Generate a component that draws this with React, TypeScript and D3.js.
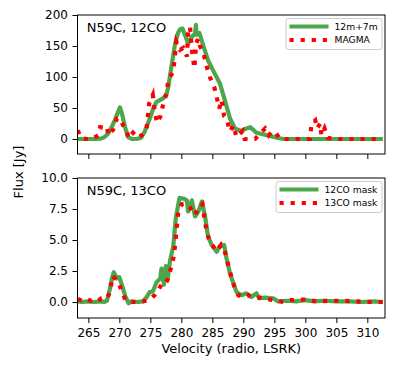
import React, { useEffect, useRef } from 'react'
import * as d3 from 'd3'

// [velocity, flux] pairs
const topInterf: [number, number][] = [
  [263.3, 0], [264, 0], [265, 0], [266, 0], [267, 0.5], [267.6, 3], [268.2, 9], [268.7, 18],
  [269.3, 31], [269.8, 44], [270.1, 51], [270.5, 38], [270.9, 20], [271.4, 3], [272, 0], [272.8, 0],
  [273.5, 2], [274.1, 12], [274.9, 33], [275.5, 50], [276, 60], [276.6, 63], [277.1, 66], [277.6, 72],
  [277.9, 84], [278.4, 117], [279, 154], [279.5, 172], [279.8, 177], [280.2, 178], [280.8, 162],
  [281.1, 154], [281.7, 165], [282.2, 170], [282.35, 184], [282.45, 168], [282.9, 171], [283.5, 152],
  [284.3, 127], [285.2, 109], [286.2, 90], [287.0, 63], [287.85, 33], [288.65, 17], [289.7, 13],
  [290.5, 17], [291.1, 19], [292.15, 10], [293.8, 6], [295.4, 2], [296.5, 0], [298, 0], [300, 0],
  [302, 0], [304, 0], [306, 0], [308, 0], [310, 0], [312.5, 0],
]
const topMagma: [number, number][] = [
  [263.3, 14], [263.7, 3], [264.6, 0], [265.6, 0], [266.6, 6], [266.9, 19], [267.5, 18], [268, 20],
  [268.2, 6], [269, 15], [269.6, 33], [270.1, 33], [270.6, 22], [271.2, 12], [271.5, 1], [272.2, 10],
  [272.9, 2], [273.6, 6], [274.4, 17], [274.8, 57], [275.4, 71], [275.75, 41], [276.1, 26], [276.6, 36],
  [277.1, 57], [277.6, 73], [277.9, 95], [278.7, 109], [279, 138], [279.2, 157], [279.8, 144],
  [280.3, 147], [280.9, 133], [281.1, 173], [281.4, 181], [281.7, 144], [282.1, 114], [282.4, 155],
  [282.75, 162], [283, 150], [283.5, 141], [284.1, 117], [284.6, 100], [285.3, 84], [285.7, 68],
  [286.1, 49], [286.5, 63], [286.9, 37], [287.3, 33], [287.85, 12], [288.4, 22], [288.9, 3], [289.9, 13],
  [290.2, 0], [291.9, 0], [293.5, 17], [294.1, 6], [294.6, 12], [295.1, 12], [295.9, 0], [297.5, 0],
  [299, 0], [300.75, 0], [301, 25], [301.6, 30], [301.9, 17], [302.4, 25], [302.6, 6], [303.1, 17],
  [303.6, 2], [304.5, 0], [306, 0], [308, 0], [310, 0], [312.5, 0],
]
const botMask12: [number, number][] = [
  [263.3, 0.05], [264, 0], [265, 0.05], [266, 0], [267, 0.05], [267.5, 0], [268, 0.1], [268.5, 1.1],
  [268.8, 1.9], [269.1, 2.4], [269.6, 1.9], [270, 2.0], [270.4, 1.4], [271, 0.4], [271.5, -0.1],
  [272, 0.05], [273, 0], [273.8, 0.05], [274.4, 0.4], [274.9, 0.8], [275.4, 0.85], [276, 1.6],
  [276.6, 1.9], [276.8, 2.7], [277.2, 1.4], [277.5, 2.9], [277.8, 1.9], [278.2, 3.4], [278.7, 4.5],
  [279.1, 6.75], [279.7, 8.4], [280.3, 8.35], [280.9, 8.2], [281.1, 7.3], [281.7, 8.2], [282.2, 6.9],
  [282.75, 7.3], [283.3, 8.1], [283.8, 7.0], [284.3, 5.3], [284.8, 4.7], [285.7, 4.05], [286.2, 4.5],
  [286.9, 4.6], [287.3, 3.5], [287.85, 2.3], [288.4, 1.5], [288.9, 0.8], [289.7, 0.55], [290.5, 0.7],
  [291.3, 0.4], [292.1, 0.7], [292.6, 0.3], [293.5, 0.35], [294.8, 0.3], [295.6, 0.05], [297, 0.1],
  [298.5, 0.05], [300, 0.15], [301.5, 0.05], [303, 0.1], [305, 0.05], [307, 0.05], [309, 0.0],
  [311, 0.05], [312.5, 0.0],
]
const botMask13: [number, number][] = [
  [263.3, 0.25], [264, 0.1], [264.7, 0.25], [265.4, 0.1], [266, 0.2], [266.6, 0.1], [267.1, 0.3],
  [267.6, 0.35], [268, 0.3], [268.5, 0.8], [268.9, 2.1], [269.3, 1.9], [269.7, 1.6], [270, 1.4],
  [270.5, 0.7], [271, 0.15], [271.8, 0], [273, 0], [274.4, 0.1], [275.1, 0.3], [275.7, 0.55],
  [276.25, 0.95], [276.8, 1.4], [277.2, 1.35], [277.75, 1.75], [278.3, 2.7], [278.7, 3.5], [279, 4.6],
  [279.2, 5.65], [279.5, 7.3], [280.1, 7.9], [280.6, 7.95], [281.2, 7.75], [281.7, 7.4], [282.2, 7.0],
  [282.75, 7.6], [283.4, 7.9], [283.8, 6.5], [284.1, 5.7], [284.6, 4.8], [285.1, 4.5], [285.7, 4.1],
  [286.4, 4.6], [287, 4.1], [287.6, 2.9], [288.2, 1.8], [288.7, 1.0], [289.2, 0.55], [290, 0.4],
  [290.8, 0.55], [291.5, 0.35], [292.7, 0.35], [293.8, 0.25], [294.8, 0.15], [296.5, 0.0], [297.6, 0.15],
  [299.8, 0.2], [301.9, 0.05], [304.1, 0.1], [305.7, 0.1], [308.4, 0.05], [310.5, 0.0], [312.5, 0.0],
]

const xTicks = [265, 270, 275, 280, 285, 290, 295, 300, 305, 310]
const topYTicks = [0, 50, 100, 150, 200]
const botYTicks = [0, 2.5, 5, 7.5, 10]

const panels = [
  { title: 'N59C, 12CO', a: topInterf, b: topMagma, labels: ['12m+7m', 'MAGMA'], yDomain: [-24.2, 200], yTicks: topYTicks, fmt: d3.format('d'), top: 15, bottom: 154, legX: 286, legW: 96, xLabels: false },
  { title: 'N59C, 13CO', a: botMask12, b: botMask13, labels: ['12CO mask', '13CO mask'], yDomain: [-1.29, 10], yTicks: botYTicks, fmt: d3.format('.1f'), top: 178, bottom: 318, legX: 276, legW: 106, xLabels: true },
]

const W = 399
const H = 367
const left = 77.5
const right = 385
const FONT = 'DejaVu Sans, sans-serif'
const GREEN = 'rgba(0,128,0,0.7)'

export default function App() {
  const ref = useRef<SVGSVGElement>(null)

  useEffect(() => {
    const svg = d3.select(ref.current)
    svg.selectAll('*').remove()
    const x = d3.scaleLinear().domain([263.25, 312.85]).range([left, right])

    panels.forEach((p, i) => {
      const y = d3.scaleLinear().domain(p.yDomain).range([p.bottom, p.top])
      const g = svg.append('g')
      const clipId = 'clip' + i
      svg.append('clipPath').attr('id', clipId)
        .append('rect').attr('x', left).attr('y', p.top).attr('width', right - left).attr('height', p.bottom - p.top)

      const line = d3.line<[number, number]>().x(d => x(d[0])).y(d => y(d[1]))

      g.append('path').attr('d', line(p.a)).attr('fill', 'none').attr('stroke', GREEN)
        .attr('stroke-width', 4.2).attr('stroke-linejoin', 'round').attr('clip-path', `url(#${clipId})`)
      g.append('path').attr('d', line(p.b)).attr('fill', 'none').attr('stroke', 'red')
        .attr('stroke-width', 4.2).attr('stroke-dasharray', '4.2 6.9').attr('clip-path', `url(#${clipId})`)

      // axes
      const ax = g.append('g').attr('transform', `translate(0,${p.bottom})`)
        .call(d3.axisBottom(x).tickValues(xTicks).tickSize(5).tickPadding(5).tickFormat(p.xLabels ? (d => String(d)) : () => ''))
      const ay = g.append('g').attr('transform', `translate(${left},0)`)
        .call(d3.axisLeft(y).tickValues(p.yTicks).tickSize(5).tickPadding(4.5).tickFormat(d => p.fmt(d as number)))
      ;[ax, ay].forEach(a => {
        a.select('.domain').remove()
        a.selectAll('line').attr('stroke', '#000').attr('stroke-width', 1)
        a.selectAll('text').attr('font-family', FONT).attr('font-size', 12).attr('fill', '#000')
      })

      g.append('rect').attr('x', left).attr('y', p.top).attr('width', right - left).attr('height', p.bottom - p.top)
        .attr('fill', 'none').attr('stroke', '#000').attr('stroke-width', 1)

      g.append('text').attr('x', 86.7).attr('y', p.top + 16.5).attr('font-family', FONT).attr('font-size', 13)
        .text(p.title)

      // legend
      const ly = p.top + 3.5
      g.append('rect').attr('x', p.legX).attr('y', ly).attr('width', p.legW).attr('height', 31)
        .attr('rx', 2.5).attr('fill', 'rgba(255,255,255,0.8)').attr('stroke', '#cccccc').attr('stroke-width', 1)
      p.labels.forEach((lab, k) => {
        const yy = ly + 8 + k * 13.5
        const lx = p.legX + 3.5
        const l = g.append('line').attr('x1', lx).attr('x2', lx + 39).attr('y1', yy).attr('y2', yy)
        if (k === 0) l.attr('stroke', GREEN).attr('stroke-width', 4.2)
        else l.attr('stroke', 'red').attr('stroke-width', 4.2).attr('stroke-dasharray', '4.2 6.9')
        g.append('text').attr('x', lx + 45).attr('y', yy + 3.3).attr('font-family', FONT).attr('font-size', 9.2).text(lab)
      })
    })

    svg.append('text').attr('x', (left + right) / 2).attr('y', 353).attr('text-anchor', 'middle')
      .attr('font-family', FONT).attr('font-size', 13).text('Velocity (radio, LSRK)')
    svg.append('text').attr('transform', 'translate(23,172) rotate(-90)').attr('text-anchor', 'middle')
      .attr('font-family', FONT).attr('font-size', 13).text('Flux [Jy]')
  }, [])

  return (
    <svg ref={ref} width={W} height={H} style={{ position: 'absolute', left: 0, top: 0, background: '#fff' }} />
  )
}
